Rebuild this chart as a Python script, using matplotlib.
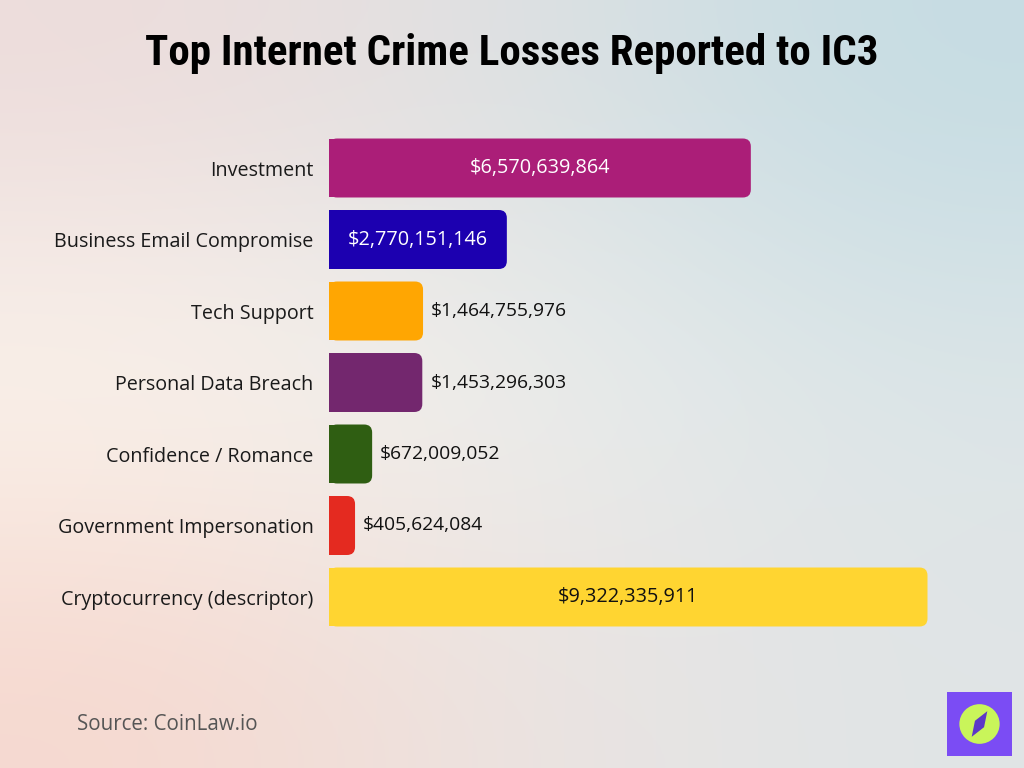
import matplotlib
matplotlib.use("Agg")
import matplotlib.pyplot as plt
import numpy as np
from matplotlib.patches import FancyBboxPatch, Rectangle, Circle, Polygon
from matplotlib.colors import to_rgb

categories = ["Investment", "Business Email Compromise", "Tech Support",
              "Personal Data Breach", "Confidence / Romance",
              "Government Impersonation", "Cryptocurrency (descriptor)"]
losses = [6570639864, 2770151146, 1464755976, 1453296303,
          672009052, 405624084, 9322335911]
colors = ["#ab1e78", "#1c00b0", "#ffa602", "#73276e", "#2f5e12", "#e42a20", "#ffd531"]
inside = [True, True, False, False, False, False, True]
label_colors = ["white", "white", "#111111", "#111111", "#111111", "#111111", "#111111"]

W, H = 1024, 768
fig = plt.figure(figsize=(W / 100, H / 100), dpi=100)

# background gradient
bg = fig.add_axes([0, 0, 1, 1], zorder=-10)
grid = np.array([
    [to_rgb("#eddcdb"), to_rgb("#dfe2e3"), to_rgb("#c5dce3")],
    [to_rgb("#fcf7ef"), to_rgb("#eef0ee"), to_rgb("#dde6e8")],
    [to_rgb("#f6d8cf"), to_rgb("#ece4e1"), to_rgb("#e0e4e6")],
])
bg.imshow(grid, aspect="auto", interpolation="bicubic", extent=[0, 1, 0, 1])
bg.axis("off")

# plotting axes
x0, x1 = 329, 971
ytop, ybot = 132.25, 632.75
ax = fig.add_axes([x0 / W, 1 - ybot / H, (x1 - x0) / W, (ybot - ytop) / H])
ax.patch.set_alpha(0)
ypos = np.arange(len(categories))
ax.set_xlim(0, 10e9)
ax.set_ylim(len(categories) - 0.5, -0.5)
bars = ax.barh(ypos, losses, height=0.825, color=colors)

# rounded right corners
xpp = 10e9 / (x1 - x0)
ypp = len(categories) / (ybot - ytop)
r = 8 * xpp
for b, c in zip(bars, colors):
    bx, by, bw, bh = b.get_x(), b.get_y(), b.get_width(), b.get_height()
    b.set_visible(False)
    ax.add_patch(FancyBboxPatch((bx, by), bw, bh,
                                boxstyle=f"round,pad=0,rounding_size={r}",
                                mutation_aspect=ypp / xpp, fc=c, ec="none"))
    ax.add_patch(Rectangle((bx, by), min(bw, r * 1.5), bh, fc=c, ec="none"))

FONT = "Open Sans"
for i, (v, ins, lc) in enumerate(zip(losses, inside, label_colors)):
    txt = f"${v:,}"
    if ins:
        ax.text(v / 2, i, txt, ha="center", va="center", color=lc,
                fontsize=14.3, family=FONT)
    else:
        ax.text(v + 8 * xpp, i, txt, ha="left", va="center", color=lc,
                fontsize=13.9, family=FONT)

ax.set_yticks(ypos)
ax.set_yticklabels(categories, fontsize=14.2, family=FONT, color="#1a1a1a")
ax.tick_params(axis="y", length=0, pad=11)
ax.set_xticks([])
for s in ax.spines.values():
    s.set_visible(False)

fig.text(0.5, 1 - 53 / H, "Top Internet Crime Losses Reported to IC3",
         ha="center", va="center", fontsize=31, fontweight="black",
         family=["Roboto Condensed", "Roboto", "DejaVu Sans"], color="black")

fig.text(77 / W, 1 - 724 / H, "Source: CoinLaw.io", ha="left", va="center",
         fontsize=14.8, family=FONT, color="#555555")

# logo
logo = fig.add_axes([947 / W, 1 - 756 / H, 65 / W, 64 / H])
logo.set_xlim(0, 1)
logo.set_ylim(0, 1)
logo.axis("off")
logo.add_patch(Rectangle((0, 0), 1, 1, fc="#7b4cf4", ec="none"))
logo.add_patch(Circle((0.5, 0.5), 0.31, fc="#c9f55a", ec="none"))
logo.add_patch(Polygon([(0.62, 0.7), (0.57, 0.45), (0.38, 0.3), (0.43, 0.55)],
                       fc="#5c37c8", ec="none"))

fig.savefig("out.png", dpi=100)
